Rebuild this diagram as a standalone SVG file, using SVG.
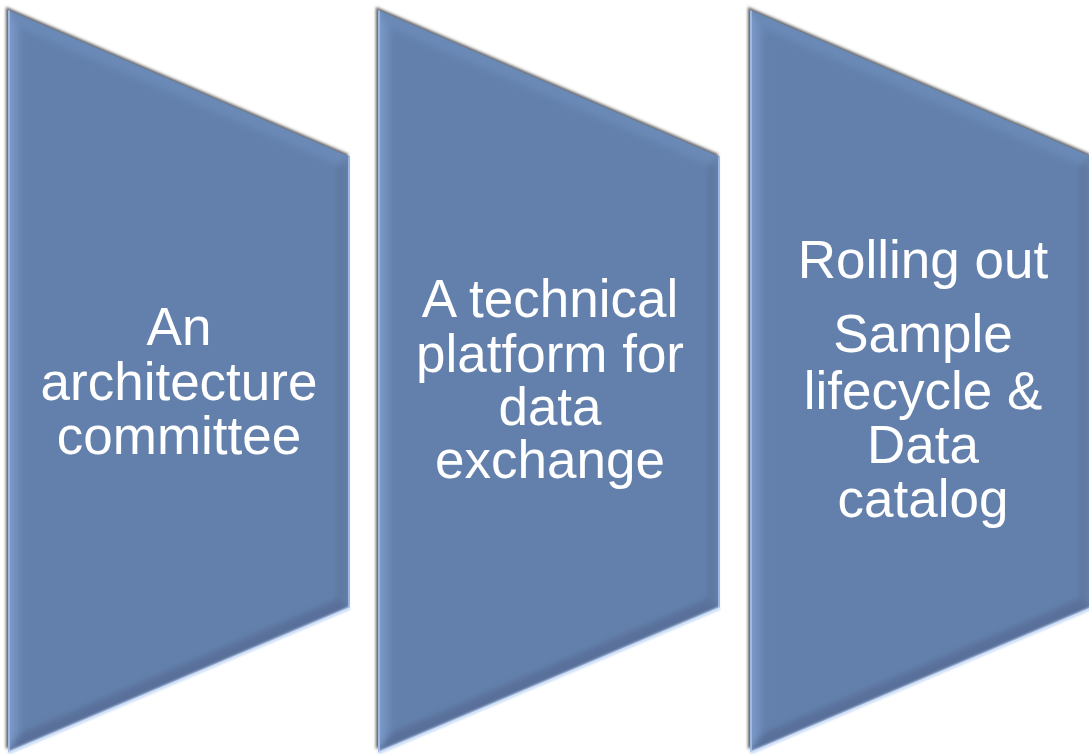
<svg xmlns="http://www.w3.org/2000/svg" width="1089" height="754" viewBox="0 0 1089 754">
  <defs>
    <style>
      .label { font-family: "Liberation Sans", Arial, sans-serif; font-size: 53px; fill: #ffffff; text-anchor: middle; }
      .body { fill: #6380ac; }
      .glow { fill: none; stroke: #c6daf6; stroke-width: 3; }
    </style>
    <!-- trapezoid outline shared by all three steps -->
    <polygon id="trap" points="0,0 342,147 342,597 0,742"/>
    <clipPath id="trapClip">
      <use href="#trap"/>
    </clipPath>
    <filter id="shade" x="-5%" y="-5%" width="110%" height="110%">
      <feGaussianBlur in="SourceAlpha" stdDeviation="1.8"/>
      <feOffset dx="-2" dy="-3" result="off"/>
      <feFlood flood-color="#4a4a4a" flood-opacity="0.9"/>
      <feComposite in2="off" operator="in" result="sh"/>
      <feMerge>
        <feMergeNode in="sh"/>
        <feMergeNode in="SourceGraphic"/>
      </feMerge>
    </filter>
    <filter id="soft" x="-5%" y="-5%" width="110%" height="110%">
      <feGaussianBlur stdDeviation="3"/>
    </filter>
    <filter id="haze" x="-5%" y="-5%" width="110%" height="110%">
      <feGaussianBlur stdDeviation="1.2"/>
    </filter>
    <linearGradient id="leftFacet" x1="0" y1="0" x2="1" y2="0">
      <stop offset="0" stop-color="#86a4d4"/>
      <stop offset="1" stop-color="#6b89b7"/>
    </linearGradient>
    <linearGradient id="rightFacet" x1="0" y1="0" x2="1" y2="0">
      <stop offset="0" stop-color="#5a7399"/>
      <stop offset="0.8" stop-color="#6a85b0"/>
      <stop offset="1" stop-color="#93b0de"/>
    </linearGradient>
    <!-- one step: body, bevel facets, lower edge glow -->
    <g id="step">
      <g filter="url(#shade)">
        <use href="#trap" class="body"/>
      </g>
      <g clip-path="url(#trapClip)">
        <g filter="url(#soft)">
          <polygon points="-6,-6 12,18 12,724 -6,748" fill="url(#leftFacet)"/>
          <polygon points="-6,-6 348,144 330,155 12,18" fill="#6b89b6"/>
          <polygon points="348,144 348,600 330,589 330,155" fill="url(#rightFacet)"/>
          <polygon points="-6,748 12,724 330,589 348,600" fill="#58709a"/>
        </g>
        <polygon points="0,0 2,0 2,742 0,742" fill="#9fb9e0"/>
        <polygon points="340,147 342,147 342,597 340,597" fill="#9ab6e2"/>
      </g>
      <polyline class="glow" filter="url(#haze)" points="0,743 342,598"/>
    </g>
  </defs>

  <g id="step-architecture">
    <use href="#step" transform="translate(8,10)"/>
    <text class="label" x="179" y="345">An</text>
    <text class="label" x="179" y="400">architecture</text>
    <text class="label" x="179" y="454">committee</text>
  </g>

  <g id="step-platform">
    <use href="#step" transform="translate(378,10)"/>
    <text class="label" x="550" y="317">A technical</text>
    <text class="label" x="550" y="372">platform for</text>
    <text class="label" x="550" y="425">data</text>
    <text class="label" x="550" y="478">exchange</text>
  </g>

  <g id="step-rollout">
    <use href="#step" transform="translate(750,10)"/>
    <text class="label" x="923" y="278">Rolling out</text>
    <text class="label" x="923" y="352">Sample</text>
    <text class="label" x="923" y="409">lifecycle &amp;</text>
    <text class="label" x="923" y="463">Data</text>
    <text class="label" x="923" y="517">catalog</text>
  </g>

  <g id="connectors"/>
</svg>
